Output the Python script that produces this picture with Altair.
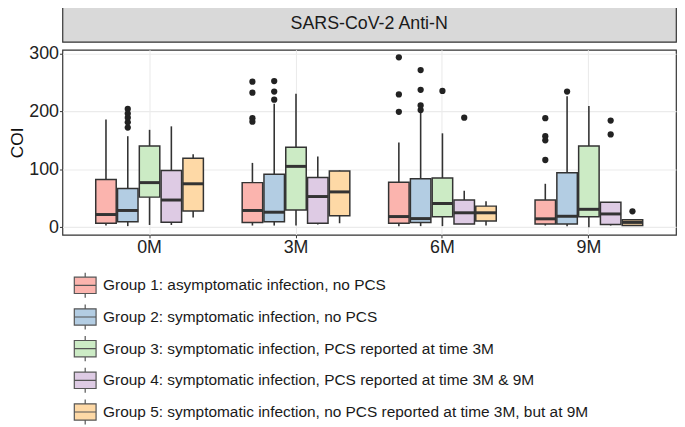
import altair as alt
import pandas as pd

panel_title = "SARS-CoV-2 Anti-N"
times = ["0M", "3M", "6M", "9M"]
groups = [
    "Group 1: asymptomatic infection, no PCS",
    "Group 2: symptomatic infection, no PCS",
    "Group 3: symptomatic infection, PCS reported at time 3M",
    "Group 4: symptomatic infection, PCS reported at time 3M & 9M",
    "Group 5: symptomatic infection, no PCS reported at time 3M, but at 9M",
]
colors = ["#FBB4AE", "#B3CDE3", "#CCEBC5", "#DECBE4", "#FED9A6"]

# box statistics, rows = time (0M, 3M, 6M, 9M), columns = group 1..5
lower = [
    [3, 2, 4, 4, 17],
    [3, 3, 3, 5, 7],
    [2, 2, 2, 5.6, 3],
    [3, 2, 0, 3, 3],
]
q1 = [
    [7, 9.5, 52, 8.5, 28],
    [8.4, 9.5, 30, 7, 20],
    [7, 8.4, 18, 5.6, 11],
    [5.6, 5.6, 18, 5, 3],
]
median = [
    [22, 29, 77, 47, 75],
    [29, 26, 105, 53, 61],
    [18.5, 15, 41, 25, 25],
    [14.6, 19, 31, 23, 8.4],
]
q3 = [
    [82.5, 67, 140, 98, 119],
    [77, 91.5, 138, 86, 97],
    [77.5, 83.6, 85, 47, 36.5],
    [47, 94, 140, 43, 13],
]
upper = [
    [186, 157, 168, 174, 126],
    [111, 213, 230, 122, 98],
    [146, 199, 162, 63, 45],
    [75, 226, 209, 43, 13],
]
# outliers: (time index, group index, value)
outlier_time = [0, 0, 0, 0, 0, 1, 1, 1, 1, 1, 1, 1, 2, 2, 2, 2, 2, 2, 2, 2, 2, 3, 3, 3, 3, 3, 3, 3, 3]
outlier_group = [1, 1, 1, 1, 1, 0, 0, 0, 0, 1, 1, 1, 0, 0, 0, 1, 1, 1, 1, 2, 3, 0, 0, 0, 0, 1, 3, 3, 4]
outlier_value = [172, 181, 189, 196, 204, 182, 188, 232, 251, 220, 234, 252,
                 199, 229, 293, 202, 210, 237, 271, 235, 189,
                 116, 150, 157, 188, 234, 160, 184, 27.5]

rows = []
for ti, t in enumerate(times):
    for gi, g in enumerate(groups):
        rows.append(dict(time=t, group=g, low=lower[ti][gi], q1=q1[ti][gi],
                         med=median[ti][gi], q3=q3[ti][gi], high=upper[ti][gi]))
box_df = pd.DataFrame(rows)
out_df = pd.DataFrame({
    "time": [times[i] for i in outlier_time],
    "group": [groups[i] for i in outlier_group],
    "value": outlier_value,
})

FONT = "Liberation Sans"
DARK = "#333333"
W = 620

x_enc = alt.X("time:N", sort=times, title=None,
              scale=alt.Scale(paddingInner=0, paddingOuter=0.095),
              axis=alt.Axis(bandPosition=0.5, grid=True, gridColor="#EBEBEB", gridWidth=1.1,
                            ticks=True, tickSize=3, tickColor=DARK, domain=False,
                            labelAngle=0, labelFontSize=18, labelColor="#222222",
                            labelFont=FONT, labelPadding=1))
xo_enc = alt.XOffset("group:N", sort=groups,
                     scale=alt.Scale(paddingInner=0.06, paddingOuter=0.89))
y_scale = alt.Scale(domain=[-13, 306], nice=False, zero=False)
color_enc = alt.Color(
    "group:N", sort=groups,
    scale=alt.Scale(domain=groups, range=colors),
    legend=alt.Legend(
        title=None, orient="none", legendX=11, legendY=270, direction="vertical",
        symbolType="M-1,-0.75H1V0.75H-1Z M-1,0H1 M0,-0.75V-1.15 M0,0.75V1.15",
        symbolSize=484, symbolStrokeColor="#555555", symbolStrokeWidth=1.2,
        symbolOpacity=1, labelFontSize=15.6, labelFont=FONT, labelColor="#1a1a1a",
        labelOffset=6, rowPadding=0, labelLimit=700,
    ),
)

y_axis = alt.Axis(
    values=[0, 50, 100, 150, 200, 250, 300],
    labelExpr="datum.value % 100 === 0 ? datum.label : ''",
    grid=True, gridColor="#EBEBEB",
    gridWidth={"condition": {"test": "datum.value % 100 === 0", "value": 1.1}, "value": 0.55},
    tickColor={"condition": {"test": "datum.value % 100 === 0", "value": DARK}, "value": "transparent"},
    tickSize=3, domain=False, labelFontSize=18, labelColor="#222222", labelFont=FONT,
    labelPadding=1, title="COI", titleFontSize=17.5, titleFont=FONT, titleFontWeight="normal",
    titleColor="#111111", titlePadding=2,
)

base = alt.Chart(box_df)
whisk = base.mark_rule(color=DARK, strokeWidth=1.6).encode(
    x=x_enc, xOffset=xo_enc,
    y=alt.Y("low:Q", scale=y_scale, axis=y_axis), y2="high:Q",
)
boxes = base.mark_bar(stroke=DARK, strokeWidth=1.5, opacity=1).encode(
    x=x_enc, xOffset=xo_enc,
    y=alt.Y("q1:Q", scale=y_scale), y2="q3:Q",
    color=color_enc,
)
meds = base.mark_tick(color=DARK, thickness=3, size=21, opacity=1).encode(
    x=x_enc, xOffset=xo_enc, y=alt.Y("med:Q", scale=y_scale),
)
outs = alt.Chart(out_df).mark_circle(color="#222222", size=40, opacity=1).encode(
    x=x_enc, xOffset=xo_enc, y=alt.Y("value:Q", scale=y_scale),
)

main = alt.layer(whisk, boxes, meds, outs).properties(
    width=W, height=187,
    view=alt.ViewBackground(stroke=DARK, strokeWidth=1.2, fill="white"),
)

strip = alt.Chart(pd.DataFrame({"panel": [panel_title]})).mark_text(
    font=FONT, fontSize=18, color="#1a1a1a", baseline="middle", align="center"
).encode(text="panel:N").properties(
    width=W, height=36,
    view=alt.ViewBackground(fill="#D9D9D9", stroke=DARK, strokeWidth=1.2),
)

chart = alt.vconcat(strip, main, spacing=0).properties(
    padding={"top": -5, "left": 0, "right": 0, "bottom": 0}
).configure_view(stroke=DARK)

chart.save("out.html", embed_options={"renderer": "svg", "actions": False})
